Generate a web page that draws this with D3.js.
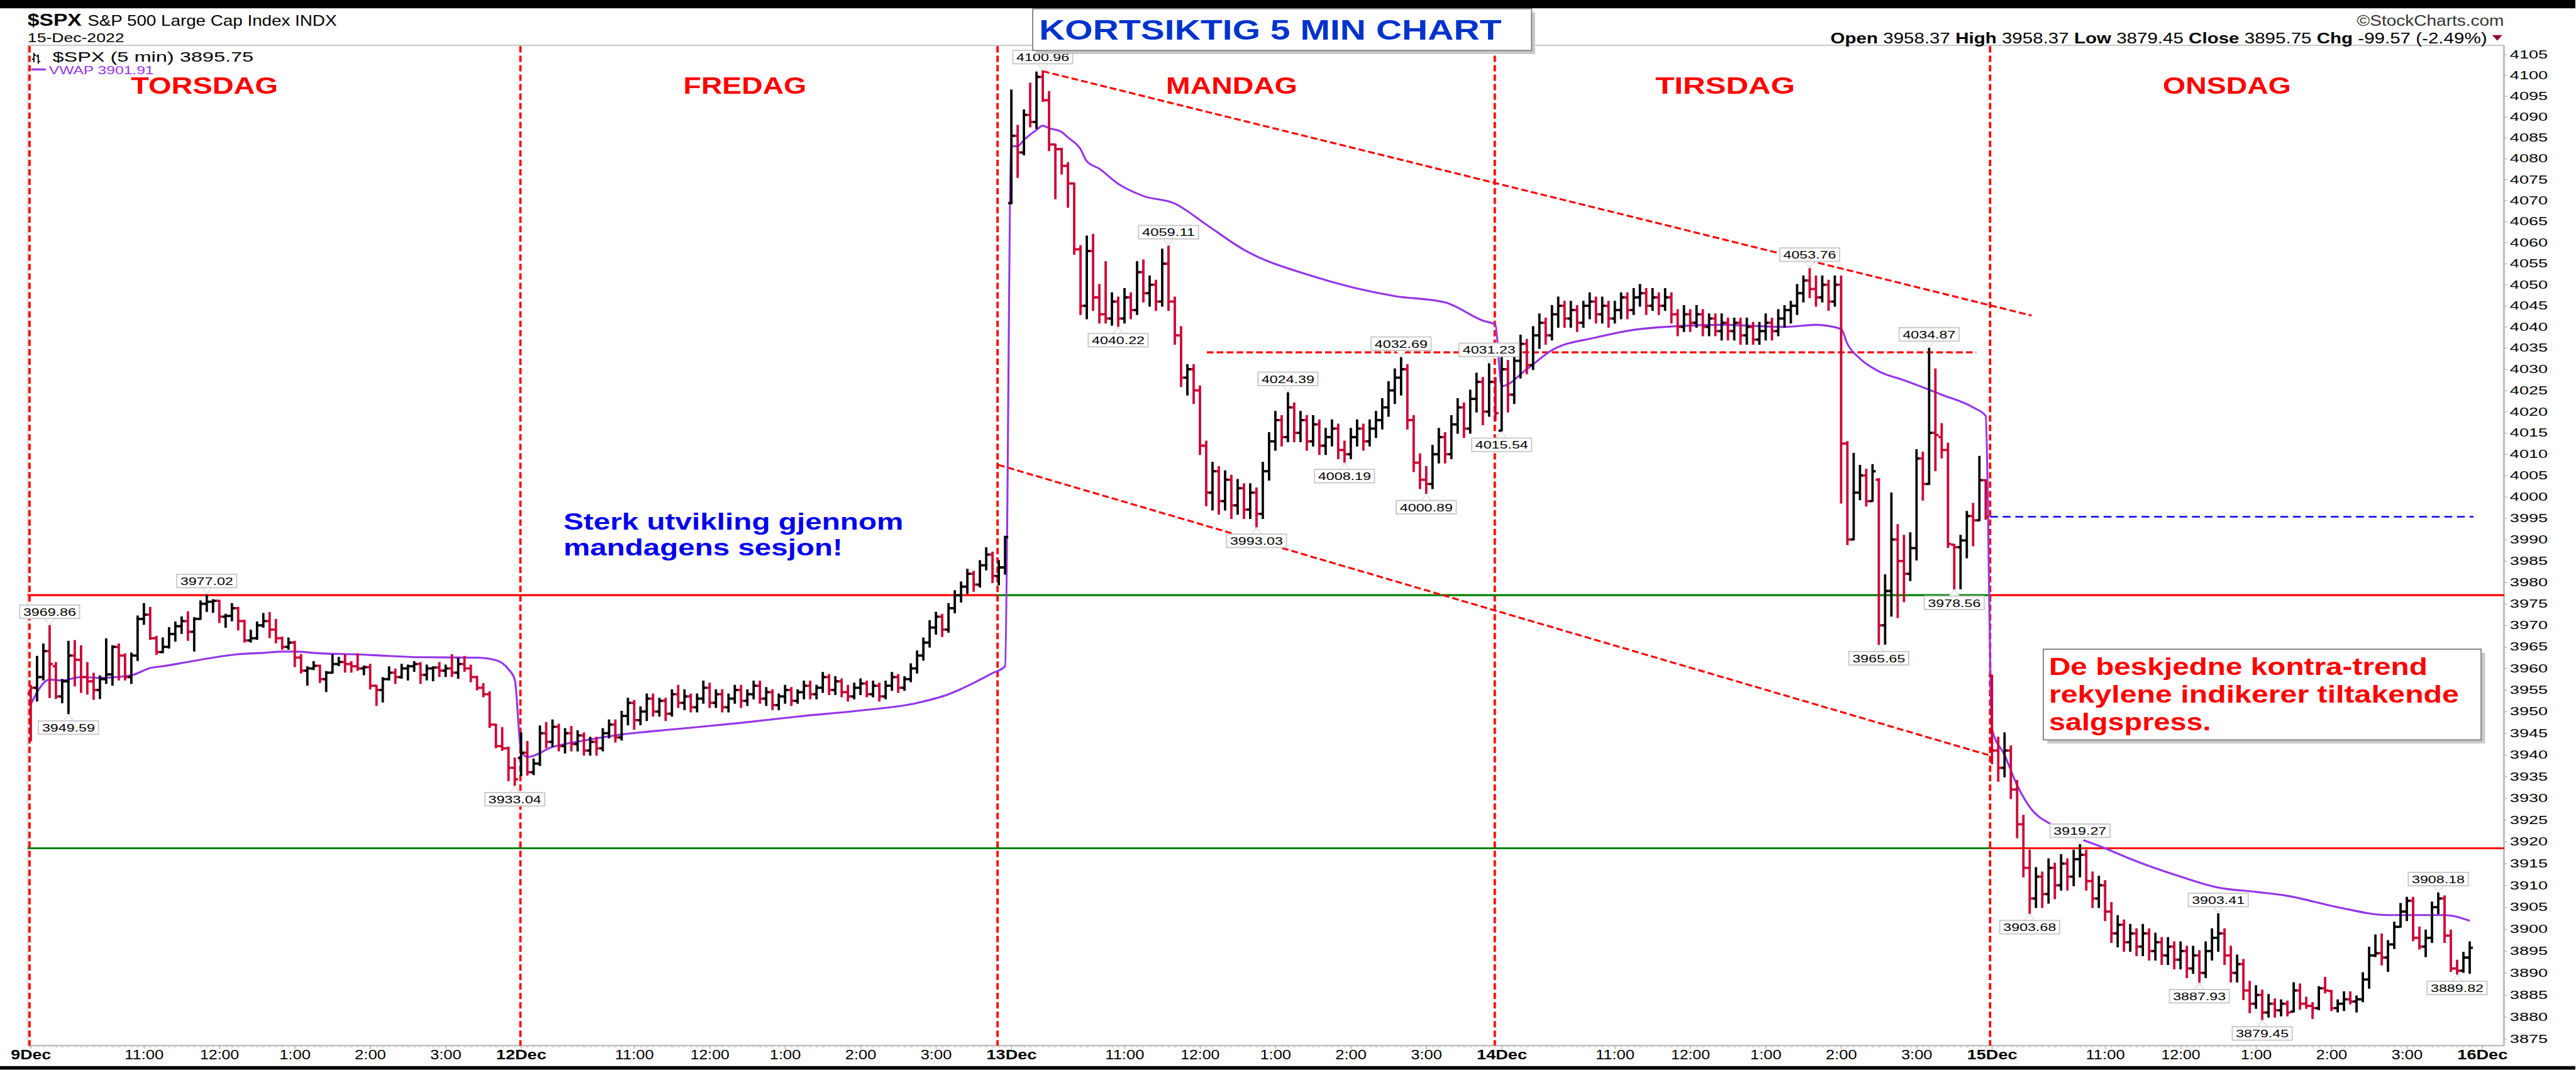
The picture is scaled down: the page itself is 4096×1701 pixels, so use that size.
<!DOCTYPE html>
<html>
<head>
<meta charset="utf-8">
<script src="https://cdnjs.cloudflare.com/ajax/libs/d3/7.8.5/d3.min.js"></script>
<style>
  body { margin: 0; background: #fff; }
  svg { display: block; }
  text { font-family: "Liberation Sans", Arial, sans-serif; }
</style>
</head>
<body>
<div id="chart"></div>
<script>
// ---- data: 5 minute OHLC bars, one array per session ----
var priorClose = 3963.51;

var thuBars = [
 [3954.2,3956.0,3943.3,3955.5],[3955.5,3962.7,3952.5,3958.0],[3958.0,3965.6,3957.4,3964.0],[3964.0,3969.86,3953.3,3961.0],
 [3960.5,3961.3,3953.1,3953.5],[3953.5,3957.4,3952.1,3957.0],[3957.0,3966.2,3949.59,3963.0],[3963.0,3966.4,3956.0,3962.0],
 [3962.0,3965.2,3954.5,3958.0],[3958.0,3961.3,3954.1,3957.0],[3957.0,3958.8,3952.9,3955.0],[3955.0,3958.2,3953.1,3957.5],
 [3957.5,3966.8,3956.6,3958.6],[3958.6,3965.2,3956.2,3965.0],[3965.0,3965.6,3957.4,3963.0],[3963.0,3963.3,3957.4,3958.0],
 [3958.0,3963.5,3956.6,3963.0],[3963.0,3972.1,3961.9,3971.5],[3971.5,3975.0,3970.3,3972.5],[3972.5,3974.1,3966.8,3967.0],
 [3967.0,3967.4,3963.3,3963.8],[3963.8,3967.0,3963.7,3965.0],[3965.0,3969.4,3964.8,3968.0],[3968.0,3970.7,3966.4,3969.8],
 [3969.8,3971.9,3968.2,3971.0],[3971.0,3973.1,3966.6,3968.5],[3968.5,3971.7,3964.1,3971.5],[3971.5,3975.6,3971.5,3975.0],
 [3975.0,3977.02,3973.3,3975.5],[3975.5,3975.9,3973.1,3975.7],[3975.7,3975.8,3970.7,3972.0],[3972.0,3972.5,3969.6,3972.2],
 [3972.2,3975.0,3971.1,3974.0],[3974.0,3974.1,3969.0,3971.0],[3971.0,3971.1,3966.2,3966.5],[3966.5,3968.8,3966.2,3967.0],
 [3967.0,3970.7,3966.8,3970.0],[3970.0,3972.7,3969.6,3971.0],[3971.0,3972.9,3967.2,3969.0],[3969.0,3971.3,3966.0,3967.0],
 [3967.0,3967.2,3964.5,3965.0],[3965.0,3967.0,3964.5,3966.0],[3966.0,3966.2,3960.5,3962.5],[3962.5,3963.1,3959.0,3959.5],
 [3959.5,3960.3,3956.2,3960.0],[3960.0,3961.5,3959.8,3960.6],[3960.6,3960.7,3956.8,3957.5],[3957.5,3959.2,3954.7,3959.0],
 [3959.0,3963.1,3959.0,3961.0],[3961.0,3962.5,3960.7,3961.5],[3961.5,3963.1,3959.2,3961.0],[3961.0,3961.5,3959.2,3960.5],
 [3960.5,3963.3,3959.6,3960.0],[3960.0,3960.5,3958.6,3960.3],[3960.3,3960.9,3955.3,3956.0],[3956.0,3956.0,3951.5,3955.0],
 [3955.0,3957.8,3952.3,3957.5],[3957.5,3960.3,3957.4,3959.0],[3959.0,3959.8,3956.6,3958.0],[3958.0,3960.9,3957.8,3960.0],
 [3960.0,3960.7,3957.4,3960.5],[3960.5,3961.5,3959.4,3961.0],[3961.0,3961.3,3956.6,3958.5],[3958.5,3960.7,3957.4,3960.0],
 [3960.0,3960.3,3957.2,3960.2],[3960.2,3961.3,3958.2,3959.5],[3959.5,3960.7,3958.2,3960.0],[3960.0,3963.1,3958.2,3959.0],
 [3959.0,3962.3,3957.8,3961.0],[3961.0,3962.7,3959.4,3960.0],[3960.0,3960.7,3957.0,3958.0],[3958.0,3958.1,3955.1,3955.5],
 [3955.5,3956.4,3953.5,3954.0],[3954.0,3954.5,3946.4,3947.0],[3947.0,3947.0,3941.7,3942.0],[3942.0,3946.2,3941.1,3941.5],
 [3941.5,3941.7,3934.1,3937.0],[3937.0,3939.2,3933.04,3934.38]
];

var friBars = [
 [3939.3,3945.0,3935.3,3940.5],[3940.5,3943.0,3935.4,3936.0],[3936.0,3939.0,3935.5,3938.0],[3938.0,3946.6,3937.6,3945.0],
 [3945.0,3947.4,3941.7,3943.0],[3943.0,3948.0,3942.0,3946.5],[3946.5,3947.0,3941.0,3942.0],[3942.0,3946.0,3940.5,3945.0],
 [3945.0,3946.5,3941.0,3942.5],[3942.5,3945.5,3941.0,3944.5],[3944.5,3945.0,3940.0,3941.0],[3941.0,3944.0,3940.0,3943.0],
 [3943.0,3944.0,3940.0,3941.5],[3941.5,3946.0,3941.0,3945.0],[3945.0,3948.0,3944.0,3947.0],[3947.0,3948.0,3943.0,3944.0],
 [3944.0,3950.0,3943.5,3949.0],[3949.0,3953.0,3947.0,3952.0],[3952.0,3952.5,3946.0,3948.0],[3948.0,3951.0,3947.0,3950.0],
 [3950.0,3954.0,3948.0,3953.0],[3953.0,3954.0,3949.0,3950.0],[3950.0,3953.0,3949.0,3952.5],[3952.5,3953.0,3948.0,3949.5],
 [3949.5,3955.0,3949.0,3954.0],[3954.0,3956.0,3951.0,3952.0],[3952.0,3955.0,3950.5,3953.5],[3953.5,3954.0,3950.0,3951.0],
 [3951.0,3954.0,3950.0,3953.0],[3953.0,3957.0,3952.0,3955.5],[3955.5,3956.5,3951.0,3952.0],[3952.0,3955.0,3951.0,3954.0],
 [3954.0,3955.0,3950.0,3951.0],[3951.0,3954.0,3950.0,3953.0],[3953.0,3956.0,3952.0,3955.0],[3955.0,3956.0,3951.0,3952.5],
 [3952.5,3955.0,3951.5,3954.0],[3954.0,3957.0,3953.0,3956.0],[3956.0,3957.0,3952.0,3953.0],[3953.0,3955.5,3951.5,3954.5],
 [3954.5,3955.0,3950.5,3951.5],[3951.5,3954.0,3950.5,3953.5],[3953.5,3956.0,3952.0,3955.0],[3955.0,3955.5,3951.5,3952.5],
 [3952.5,3955.0,3952.0,3954.5],[3954.5,3957.0,3953.0,3956.0],[3956.0,3957.0,3953.0,3954.0],[3954.0,3956.0,3953.0,3955.5],
 [3955.5,3959.0,3954.5,3958.0],[3958.0,3958.5,3954.0,3955.0],[3955.0,3958.0,3954.0,3957.0],[3957.0,3957.5,3953.5,3954.5],
 [3954.5,3956.0,3952.5,3953.5],[3953.5,3956.5,3953.0,3955.5],[3955.5,3957.5,3954.0,3956.5],[3956.5,3957.0,3953.5,3954.0],
 [3954.0,3957.0,3953.5,3956.0],[3956.0,3956.5,3952.5,3953.5],[3953.5,3957.0,3953.0,3956.0],[3956.0,3959.0,3955.0,3958.0],
 [3958.0,3958.5,3954.5,3955.5],[3955.5,3958.0,3955.0,3957.5],[3957.5,3961.0,3957.0,3960.0],[3960.0,3964.0,3959.0,3963.0],
 [3963.0,3967.0,3962.0,3966.0],[3966.0,3971.0,3965.0,3969.5],[3969.5,3973.0,3968.0,3972.0],[3972.0,3972.5,3967.5,3969.0],
 [3969.0,3975.0,3968.5,3974.0],[3974.0,3978.0,3973.0,3977.0],[3977.0,3980.0,3975.5,3979.0],[3979.0,3983.0,3977.5,3982.0],
 [3982.0,3982.5,3978.0,3979.5],[3979.5,3985.0,3979.0,3984.0],[3984.0,3988.0,3983.0,3986.5],[3986.5,3987.0,3980.0,3981.5],
 [3981.5,3985.0,3979.5,3983.5],[3983.5,3990.71,3982.0,3990.56]
];

var monBars = [
 [4069.4,4096.4,4069.3,4085.5],[4085.5,4087.9,4075.6,4081.5],[4081.5,4091.6,4081.0,4090.5],[4090.5,4098.0,4087.7,4088.8],
 [4088.8,4100.7,4087.3,4099.6],[4099.6,4100.96,4093.8,4094.0],[4094.0,4096.0,4082.0,4083.4],[4083.4,4083.4,4070.5,4082.3],
 [4082.3,4082.4,4076.4,4078.3],[4078.3,4079.0,4068.5,4074.1],[4074.1,4074.1,4057.3,4058.4],[4058.4,4059.2,4043.0,4045.0],
 [4045.0,4061.5,4042.0,4058.0],[4058.0,4061.9,4044.0,4047.0],[4047.0,4050.0,4041.0,4043.0],[4043.0,4055.4,4041.0,4042.0],
 [4042.0,4048.0,4040.5,4046.0],[4046.0,4047.0,4040.22,4042.0],[4042.0,4049.0,4041.0,4047.0],[4047.0,4048.0,4042.0,4044.0],
 [4044.0,4055.4,4043.0,4053.0],[4053.0,4055.8,4046.0,4048.0],[4048.0,4052.0,4045.0,4050.0],[4050.0,4051.0,4044.0,4046.0],
 [4046.0,4058.4,4045.0,4055.0],[4055.0,4059.11,4044.0,4046.0],[4046.0,4047.0,4036.0,4038.0],[4038.0,4040.0,4026.0,4028.0],
 [4028.0,4031.0,4024.0,4030.0],[4030.0,4031.0,4022.0,4025.0],[4025.0,4026.0,4010.0,4012.0],[4012.0,4013.0,3998.0,4001.0],
 [4001.0,4008.0,3997.0,4006.0],[4006.0,4007.0,3996.0,3999.0],[3999.0,4006.0,3997.0,4004.0],[4004.0,4005.0,3995.0,3998.0],
 [3998.0,4004.0,3996.0,4002.0],[4002.0,4003.0,3995.0,3997.0],[3997.0,4003.0,3995.0,4001.0],[4001.0,4002.0,3993.03,3996.0],
 [3996.0,4008.0,3995.0,4006.0],[4006.0,4015.0,4004.0,4013.0],[4013.0,4020.0,4011.0,4018.0],[4018.0,4019.0,4012.0,4014.0],
 [4014.0,4024.39,4013.0,4021.0],[4021.0,4022.0,4013.0,4015.0],[4015.0,4020.0,4013.0,4018.0],[4018.0,4019.0,4011.0,4013.0],
 [4013.0,4019.0,4012.0,4017.0],[4017.0,4018.0,4010.0,4012.0],[4012.0,4016.0,4010.0,4014.0],[4014.0,4018.0,4012.0,4016.0],
 [4016.0,4017.0,4009.0,4011.0],[4011.0,4013.0,4008.19,4010.0],[4010.0,4016.0,4009.0,4014.0],[4014.0,4018.0,4012.0,4016.0],
 [4016.0,4017.0,4011.0,4013.0],[4013.0,4018.0,4012.0,4016.0],[4016.0,4020.0,4014.0,4018.0],[4018.0,4023.0,4016.0,4021.0],
 [4021.0,4027.0,4019.0,4025.0],[4025.0,4030.0,4022.0,4028.0],[4028.0,4032.69,4024.0,4030.0],[4030.0,4031.0,4016.0,4018.0],
 [4018.0,4019.0,4006.0,4008.0],[4008.0,4010.0,4002.0,4004.0],[4004.0,4007.0,4000.89,4003.0],[4003.0,4012.0,4002.0,4010.0],
 [4010.0,4016.0,4008.0,4014.0],[4014.0,4015.0,4008.0,4010.0],[4010.0,4019.0,4009.0,4017.0],[4017.0,4023.0,4015.0,4021.0],
 [4021.0,4022.0,4014.0,4016.0],[4016.0,4025.0,4015.0,4023.0],[4023.0,4029.0,4020.0,4027.0],[4027.0,4028.0,4017.0,4020.0],
 [4020.0,4031.23,4019.0,4027.0],[4027.0,4028.0,4018.0,4019.65]
];

var tueBars = [
 [4015.54,4033.0,4015.54,4030.0],[4030.0,4032.0,4020.0,4024.0],[4024.0,4034.0,4022.0,4032.0],[4032.0,4038.0,4028.0,4036.0],
 [4036.0,4037.0,4029.0,4031.0],[4031.0,4040.0,4030.0,4038.0],[4038.0,4043.0,4035.0,4041.0],[4041.0,4042.0,4036.0,4038.0],
 [4038.0,4045.0,4037.0,4043.0],[4043.0,4047.0,4040.0,4045.0],[4045.0,4046.0,4040.0,4042.0],[4042.0,4046.0,4040.0,4044.0],
 [4044.0,4045.0,4039.0,4041.0],[4041.0,4046.0,4040.0,4045.0],[4045.0,4048.0,4042.0,4046.0],[4046.0,4047.0,4041.0,4043.0],
 [4043.0,4047.0,4041.0,4045.0],[4045.0,4046.0,4040.0,4042.0],[4042.0,4046.0,4041.0,4044.0],[4044.0,4048.0,4042.0,4047.0],
 [4047.0,4048.0,4042.0,4044.0],[4044.0,4049.0,4043.0,4047.0],[4047.0,4050.0,4045.0,4048.0],[4048.0,4049.0,4043.0,4045.0],
 [4045.0,4049.0,4044.0,4047.0],[4047.0,4048.0,4043.0,4045.0],[4045.0,4049.0,4044.0,4047.0],[4047.0,4048.0,4041.0,4043.0],
 [4043.0,4044.0,4038.0,4040.0],[4040.0,4045.0,4039.0,4043.0],[4043.0,4044.0,4039.0,4041.0],[4041.0,4045.0,4040.0,4043.0],
 [4043.0,4044.0,4038.0,4040.0],[4040.0,4043.0,4038.0,4042.0],[4042.0,4043.0,4038.0,4039.0],[4039.0,4043.0,4037.0,4041.0],
 [4041.0,4042.0,4037.0,4039.0],[4039.0,4042.0,4037.0,4041.0],[4041.0,4042.0,4036.0,4038.0],[4038.0,4042.0,4036.0,4040.0],
 [4040.0,4041.0,4036.0,4037.0],[4037.0,4041.0,4036.0,4039.0],[4039.0,4043.0,4037.0,4041.0],[4041.0,4042.0,4037.0,4039.0],
 [4039.0,4044.0,4038.0,4042.0],[4042.0,4045.0,4040.0,4044.0],[4044.0,4046.0,4041.0,4045.0],[4045.0,4050.0,4043.0,4048.0],
 [4048.0,4052.0,4046.0,4051.0],[4051.0,4053.76,4047.0,4049.0],[4049.0,4052.0,4045.0,4047.0],[4047.0,4052.0,4046.0,4050.0],
 [4050.0,4051.0,4044.0,4046.0],[4046.0,4052.0,4045.0,4050.0],[4050.0,4052.0,3998.6,4012.5],[4012.5,4012.9,3988.9,3990.0],
 [3990.0,4010.1,3990.0,4001.0],[4001.0,4007.3,3999.4,4005.0],[4005.0,4006.4,3997.9,3999.0],[3999.0,4007.5,3999.0,4006.0],
 [4004.0,4004.2,3965.65,3970.0],[3970.0,3981.7,3965.7,3978.0],[3978.0,4000.8,3972.2,3990.0],[3990.0,3993.4,3971.9,3985.0],
 [3985.0,3990.9,3975.6,3982.0],[3982.0,3991.5,3980.5,3988.0],[3988.0,4011.0,3985.3,4009.0],[4009.0,4010.4,3999.3,4003.0],
 [4003.0,4034.87,4003.0,4015.0],[4015.0,4030.0,4006.2,4014.5],[4014.0,4017.1,4009.2,4011.0],[4011.0,4012.5,3988.2,3989.0],
 [3988.8,3988.8,3978.56,3988.2],[3988.2,3990.9,3978.6,3989.8],[3989.8,3996.5,3985.8,3995.5],[3995.5,3998.4,3988.6,3994.5],
 [3994.5,4009.4,3994.5,4003.9],[4003.9,4003.9,3994.8,3995.32]
];

var wedBars = [
 [3958.37,3958.37,3938.0,3941.0],[3941.0,3944.0,3934.0,3937.0],[3937.0,3945.0,3935.0,3941.0],[3941.0,3942.0,3930.0,3932.0],
 [3932.0,3934.0,3921.0,3924.0],[3924.0,3926.0,3912.0,3914.0],[3914.0,3918.0,3903.68,3907.0],[3907.0,3914.0,3905.0,3912.0],
 [3912.0,3913.0,3905.0,3908.0],[3908.0,3916.0,3906.0,3914.0],[3914.0,3915.0,3907.0,3910.0],[3910.0,3917.0,3909.0,3915.0],
 [3915.0,3916.0,3909.0,3912.0],[3912.0,3918.0,3910.0,3916.0],[3916.0,3919.27,3912.0,3917.0],[3917.0,3918.0,3909.0,3911.0],
 [3911.0,3913.0,3905.0,3907.0],[3907.0,3912.0,3905.0,3910.0],[3910.0,3911.0,3902.0,3904.0],[3904.0,3906.0,3897.0,3899.0],
 [3899.0,3903.0,3896.0,3901.0],[3901.0,3902.0,3895.0,3897.0],[3897.0,3901.0,3895.0,3899.0],[3899.0,3900.0,3894.0,3896.0],
 [3896.0,3901.0,3894.0,3899.0],[3899.0,3900.0,3893.0,3895.0],[3895.0,3899.0,3893.0,3897.0],[3897.0,3898.0,3892.0,3894.0],
 [3894.0,3898.0,3892.0,3896.0],[3896.0,3897.0,3891.0,3893.0],[3893.0,3897.0,3891.0,3895.0],[3895.0,3896.0,3889.0,3891.0],
 [3891.0,3896.0,3890.0,3894.0],[3894.0,3895.0,3887.93,3890.0],[3890.0,3897.0,3889.0,3895.0],[3895.0,3900.0,3893.0,3898.0],
 [3898.0,3903.41,3895.0,3899.0],[3899.0,3900.0,3892.0,3894.0],[3894.0,3896.0,3888.0,3890.0],[3890.0,3894.0,3888.0,3892.0],
 [3892.0,3893.0,3884.0,3886.0],[3886.0,3888.0,3881.0,3883.0],[3883.0,3887.0,3882.0,3885.0],[3885.0,3886.0,3879.45,3881.0],
 [3881.0,3885.0,3880.0,3883.0],[3883.0,3884.0,3880.0,3881.5],[3881.5,3883.8,3880.3,3883.0],[3883.0,3883.5,3880.3,3881.0],
 [3881.2,3887.7,3881.2,3886.0],[3886.0,3887.4,3881.8,3883.0],[3883.0,3884.4,3882.0,3882.5],[3882.5,3883.2,3879.7,3882.0],
 [3882.0,3886.8,3881.7,3886.5],[3886.5,3888.9,3885.5,3886.0],[3885.9,3885.9,3881.5,3882.0],[3882.0,3883.8,3881.2,3883.0],
 [3883.0,3885.6,3881.5,3884.0],[3884.0,3885.6,3883.0,3883.5],[3883.5,3884.7,3881.2,3884.0],[3884.0,3890.0,3883.5,3888.5],
 [3888.5,3895.8,3886.6,3894.0],[3894.0,3898.6,3893.8,3894.5],[3894.5,3898.8,3891.9,3893.5],[3893.5,3897.3,3890.4,3896.5],
 [3896.5,3901.5,3895.6,3900.5],[3900.5,3905.8,3900.5,3904.0],[3904.0,3907.2,3902.0,3906.5],[3906.5,3907.2,3897.4,3898.0],
 [3898.0,3900.4,3895.5,3896.0],[3896.0,3899.7,3893.8,3898.0],[3898.0,3906.1,3897.0,3905.0],[3905.0,3908.18,3903.6,3907.0],
 [3907.0,3907.5,3897.0,3898.5],[3898.5,3899.7,3890.4,3891.0],[3891.0,3892.8,3889.82,3890.5],[3890.5,3894.6,3890.2,3893.5],
 [3893.5,3897.0,3890.0,3895.75]
];

// VWAP, read at selected bars: [bar in session, value]
var vwapThu = [[0,3951.7],[3,3957.4],[5,3957.2],[8,3958.0],[11,3957.8],[16,3958.4],[19,3960.1],[21,3960.5],[25,3961.5],
  [29,3962.5],[33,3963.3],[37,3963.6],[40,3963.9],[42,3963.9],[46,3963.5],[51,3963.3],[57,3962.9],[62,3962.6],[71,3962.5],
  [74,3961.9],[76,3959.8],[77,3957.4]];
var vwapFri = [[0,3941.0],[1,3939.5],[5,3941.8],[10,3943.3],[16,3944.7],[25,3946.0],[35,3947.4],[45,3949.0],[53,3950.1],
  [63,3952.0],[68,3954.0],[71,3955.9],[75,3958.9],[77,3960.5]];
var vwapMon = [[0,4083.0],[1,4083.0],[2,4084.5],[4,4086.9],[5,4087.9],[6,4087.3],[8,4086.4],[9,4085.1],[11,4082.3],
  [12,4079.4],[14,4077.6],[17,4074.0],[21,4071.1],[26,4069.3],[31,4064.3],[37,4058.3],[48,4052.0],[61,4047.3],[69,4045.8],
  [75,4041.5],[77,4040.5]];
var vwapTue = [[0,4026.0],[4,4030.0],[8,4034.5],[15,4037.5],[22,4039.5],[35,4040.5],[45,4040.0],[50,4040.5],[54,4039.5],
  [55,4036.0],[57,4032.5],[60,4029.5],[64,4027.4],[70,4024.0],[75,4021.0],[77,4019.0]];
var vwapWed = [[0,3946.0],[2,3940.0],[4,3933.0],[6,3928.0],[10,3923.5],[18,3918.5],[23,3915.5],[30,3912.0],[36,3909.5],
  [42,3908.5],[47,3907.6],[55,3905.0],[63,3903.2],[72,3903.2],[76,3901.9]];

// high / low callouts: [session, bar, value, side]
var priceLabels = [
  [0,3,3969.86,"h"],[0,6,3949.59,"l"],[0,28,3977.02,"h"],[0,77,3933.04,"l"],
  [2,5,4100.96,"h"],[2,17,4040.22,"l"],[2,25,4059.11,"h"],[2,39,3993.03,"l"],[2,44,4024.39,"h"],
  [2,53,4008.19,"l"],[2,62,4032.69,"h"],[2,66,4000.89,"l"],[2,76,4031.23,"h"],
  [3,0,4015.54,"l"],[3,49,4053.76,"h"],[3,60,3965.65,"l"],[3,68,4034.87,"h"],[3,72,3978.56,"l"],
  [4,6,3903.68,"l"],[4,14,3919.27,"h"],[4,33,3887.93,"l"],[4,36,3903.41,"h"],[4,43,3879.45,"l"],
  [4,71,3908.18,"h"],[4,74,3889.82,"l"]
];

// axis labels
var dayLabels = ["9Dec", "12Dec", "13Dec", "14Dec", "15Dec", "16Dec"];
var hourLabels = ["11:00", "12:00", "1:00", "2:00", "3:00"];
var hourBars = [18, 30, 42, 54, 66];
var yTicks = [3875,3880,3885,3890,3895,3900,3905,3910,3915,3920,3925,3930,3935,3940,3945,3950,3955,3960,3965,
  3970,3975,3980,3985,3990,3995,4000,4005,4010,4015,4020,4025,4030,4035,4040,4045,4050,4055,4060,4065,4070,
  4075,4080,4085,4090,4095,4100,4105];

// drawn annotations (in bar / price units)
var sessionDividers = [-0.2, 77.9, 153.8, 232.9, 311.7];
var levelLines = [
  [3977.02, -0.5, 153.8, "#ff0000"], [3977.02, 153.8, 311.7, "#008000"], [3977.02, 311.7, 393.5, "#ff0000"],
  [3918.5, -0.5, 311.7, "#008000"], [3918.5, 311.7, 393.5, "#ff0000"]
];
var trendLines = [
  [161, 4100.96, 318.3, 4042.7],
  [153.9, 4007.5, 311.8, 3939.8],
  [187.1, 4034.0, 309.5, 4034.0]
];
var prevCloseLine = [3995.32, 311.7, 388.6];

// ---- set up ----
var svg = d3.select("#chart").append("svg")
  .attr("width", 4096)
  .attr("height", 1701);

var root = svg.append("g").attr("transform", "scale(0.627)");

var plot = {left: 70, right: 6350, top: 115, bottom: 2651};

var x = d3.scaleLinear().domain([0, 390]).range([78, 6295]);
var y = d3.scaleLog().domain([3875, 4105]).range([2634, 138]);

root.append("rect").attr("width", 6531).attr("height", 2712).attr("fill", "#fff");
root.append("rect").attr("width", 6531).attr("height", 21).attr("fill", "#000");
root.append("rect").attr("y", 2703).attr("width", 6531).attr("height", 9).attr("fill", "#000");

// frame
root.append("line").attr("x1", plot.left).attr("x2", plot.right).attr("y1", plot.top).attr("y2", plot.top)
  .attr("stroke", "#c0c0c0").attr("stroke-width", 3);
root.append("line").attr("x1", plot.left).attr("x2", plot.left).attr("y1", plot.top).attr("y2", plot.bottom)
  .attr("stroke", "#c8c8c8").attr("stroke-width", 2);

// ---- axes ----
var yAxis = d3.axisRight(y).tickValues(yTicks).tickFormat(d3.format("d")).tickSize(8).tickPadding(7);
var yg = root.append("g").attr("transform", `translate(${plot.right},0)`).call(yAxis);
yg.select(".domain").attr("stroke", "#c0c0c0").attr("stroke-width", 5).attr("d", `M0,${plot.top}V${plot.bottom}`);
yg.selectAll(".tick line").attr("stroke", "#b0b0b0").attr("stroke-width", 2);
yg.selectAll(".tick text")
  .attr("font-size", 29).attr("font-family", "Liberation Sans, Arial, sans-serif").attr("fill", "#000")
  .attr("textLength", 96).attr("lengthAdjust", "spacingAndGlyphs");

var xTickVals = [], xTickText = {};
dayLabels.forEach(function(lab, d) {
  xTickVals.push(d * 78); xTickText[d * 78] = lab;
  if (d < 5) hourBars.forEach(function(b, k) { xTickVals.push(d * 78 + b); xTickText[d * 78 + b] = hourLabels[k]; });
});

var minorAxis = d3.axisBottom(x).tickValues(d3.range(0, 391)).tickFormat("").tickSize(6);
var mg = root.append("g").attr("transform", `translate(0,${plot.bottom})`).call(minorAxis);
mg.select(".domain").remove();
mg.selectAll(".tick line").attr("stroke", "#b8b8b8").attr("stroke-width", 1.5);

var xAxis = d3.axisBottom(x).tickValues(xTickVals).tickFormat(function(v) { return xTickText[v]; })
  .tickSize(9).tickPadding(2);
var xg = root.append("g").attr("transform", `translate(0,${plot.bottom})`).call(xAxis);
xg.select(".domain").attr("stroke", "#c0c0c0").attr("stroke-width", 4).attr("d", `M${plot.left},0H${plot.right}`);
xg.selectAll(".tick line").attr("stroke", "#a8a8a8").attr("stroke-width", 2);
xg.selectAll(".tick text")
  .attr("font-size", 34).attr("font-family", "Liberation Sans, Arial, sans-serif").attr("fill", "#000")
  .attr("font-weight", function(v) { return v % 78 === 0 ? "bold" : "normal"; })
  .attr("textLength", function(v) { var t = xTickText[v]; return v % 78 === 0 ? t.length * 25.5 : t.length * 19.8; })
  .attr("lengthAdjust", "spacingAndGlyphs");

// ---- annotation lines under the bars ----
root.selectAll(".divider").data(sessionDividers).enter().append("line")
  .attr("class", "divider")
  .attr("x1", d => x(d)).attr("x2", d => x(d))
  .attr("y1", plot.top + 2).attr("y2", plot.bottom)
  .attr("stroke", "#ff0000").attr("stroke-width", 6).attr("stroke-dasharray", "16,8");

root.selectAll(".level").data(levelLines).enter().append("line")
  .attr("class", "level")
  .attr("x1", d => x(d[1])).attr("x2", d => x(d[2]))
  .attr("y1", d => y(d[0])).attr("y2", d => y(d[0]))
  .attr("stroke", d => d[3]).attr("stroke-width", 5);

root.append("line")
  .attr("x1", x(prevCloseLine[1])).attr("x2", x(prevCloseLine[2]))
  .attr("y1", y(prevCloseLine[0])).attr("y2", y(prevCloseLine[0]))
  .attr("stroke", "#0000ff").attr("stroke-width", 4).attr("stroke-dasharray", "20,12");

root.selectAll(".trend").data(trendLines).enter().append("line")
  .attr("class", "trend")
  .attr("x1", d => x(d[0])).attr("y1", d => y(d[1]))
  .attr("x2", d => x(d[2])).attr("y2", d => y(d[3]))
  .attr("stroke", "#ff0000").attr("stroke-width", 5).attr("stroke-dasharray", "17,8");

// ---- VWAP ----
var vwapPts = [];
[vwapThu, vwapFri, vwapMon, vwapTue, vwapWed].forEach(function(arr, d) {
  arr.forEach(function(p) { vwapPts.push([d * 78 + p[0], p[1]]); });
});
var vwapLine = d3.line().x(d => x(d[0])).y(d => y(d[1])).curve(d3.curveMonotoneX);
root.append("path").datum(vwapPts)
  .attr("d", vwapLine)
  .attr("fill", "none").attr("stroke", "#9535e8").attr("stroke-width", 5);

// ---- OHLC bars ----
var bars = [];
var lastClose = priorClose;
[thuBars, friBars, monBars, tueBars, wedBars].forEach(function(arr, d) {
  arr.forEach(function(b, i) {
    bars.push({g: d * 78 + i, o: b[0], h: b[1], l: b[2], c: b[3], up: b[3] >= lastClose});
    lastClose = b[3];
  });
});

root.append("g").selectAll("path").data(bars).enter().append("path")
  .attr("d", function(d) {
    var cx = x(d.g);
    return `M${cx},${y(d.h) - 2}V${y(d.l) + 2}M${cx - 8},${y(d.o)}H${cx}M${cx},${y(d.c)}H${cx + 8}`;
  })
  .attr("fill", "none")
  .attr("stroke", d => d.up ? "#000" : "#cc0033")
  .attr("stroke-width", 6);

// ---- high / low callouts ----
var callouts = root.append("g").selectAll("g").data(priceLabels).enter().append("g")
  .attr("transform", function(d) { return `translate(${x(d[0] * 78 + d[1])},${y(d[2])})`; });

callouts.append("path")
  .attr("d", function(d) { return d[3] === "h" ? "M-14,-20L0,-3L14,-20" : "M-14,20L0,3L14,20"; })
  .attr("fill", "#fff").attr("stroke", "#d6d6d6").attr("stroke-width", 2);
callouts.append("rect")
  .attr("x", -76).attr("y", d => d[3] === "h" ? -53 : 19)
  .attr("width", 152).attr("height", 34)
  .attr("fill", "#fff").attr("stroke", "#c8c8c8").attr("stroke-width", 3);
callouts.append("text")
  .attr("x", 0).attr("y", d => d[3] === "h" ? -26 : 46)
  .attr("text-anchor", "middle").attr("font-size", 27).attr("fill", "#000")
  .attr("textLength", 134).attr("lengthAdjust", "spacingAndGlyphs")
  .text(d => d[2].toFixed(2));

// ---- header ----
root.append("text").attr("x", 70).attr("y", 65).attr("font-size", 44).attr("font-weight", "bold")
  .attr("textLength", 137).attr("lengthAdjust", "spacingAndGlyphs").text("$SPX");
root.append("text").attr("x", 222).attr("y", 65).attr("font-size", 37)
  .attr("textLength", 632).attr("lengthAdjust", "spacingAndGlyphs").text("S&P 500 Large Cap Index  INDX");
root.append("text").attr("x", 70).attr("y", 107).attr("font-size", 31)
  .attr("textLength", 245).attr("lengthAdjust", "spacingAndGlyphs").text("15-Dec-2022");

root.append("text").attr("x", 6350).attr("y", 65).attr("font-size", 38).attr("fill", "#333")
  .attr("text-anchor", "end").attr("textLength", 373).attr("lengthAdjust", "spacingAndGlyphs")
  .text("\u00a9StockCharts.com");

var info = root.append("text").attr("x", 4642).attr("y", 110).attr("font-size", 38)
  .attr("textLength", 1665).attr("lengthAdjust", "spacingAndGlyphs");
[["Open", true], [" 3958.37  ", false], ["High", true], [" 3958.37  ", false], ["Low", true], [" 3879.45  ", false],
 ["Close", true], [" 3895.75  ", false], ["Chg", true], [" -99.57 (-2.49%)", false]].forEach(function(p) {
  info.append("tspan").attr("font-weight", p[1] ? "bold" : "normal").text(p[0]);
});
root.append("path").attr("d", "M6320,89H6346L6333,103Z").attr("fill", "#8b0a2a");

// legend
var icon = root.append("g").attr("stroke", "#000").attr("stroke-width", 3).attr("fill", "none");
icon.append("path").attr("d", "M86,134V158M81,150H86M86,140H91");
icon.append("path").attr("d", "M97,138V162M92,142H97M97,156H102");
root.append("text").attr("x", 133).attr("y", 157).attr("font-size", 35)
  .attr("textLength", 510).attr("lengthAdjust", "spacingAndGlyphs").text("$SPX (5 min) 3895.75");
root.append("line").attr("x1", 79).attr("x2", 116).attr("y1", 176).attr("y2", 176)
  .attr("stroke", "#9535e8").attr("stroke-width", 5);
root.append("text").attr("x", 124).attr("y", 188).attr("font-size", 28).attr("fill", "#9535e8")
  .attr("textLength", 266).attr("lengthAdjust", "spacingAndGlyphs").text("VWAP 3901.91");

// ---- text annotations ----
var dayNotes = [["TORSDAG", 332, 373], ["FREDAG", 1733, 312], ["MANDAG", 2957, 333], ["TIRSDAG", 4198, 354], ["ONSDAG", 5485, 325]];
root.selectAll(".daynote").data(dayNotes).enter().append("text")
  .attr("class", "daynote")
  .attr("x", d => d[1]).attr("y", 238)
  .attr("font-size", 58).attr("font-weight", "bold").attr("fill", "#ff0000")
  .attr("textLength", d => d[2]).attr("lengthAdjust", "spacingAndGlyphs")
  .text(d => d[0]);

// title box
root.append("rect").attr("x", 2628).attr("y", 31).attr("width", 1265).attr("height", 106).attr("fill", "#c8c8c8");
root.append("rect").attr("x", 2619).attr("y", 22).attr("width", 1265).attr("height", 106)
  .attr("fill", "#fff").attr("stroke", "#808080").attr("stroke-width", 3);
root.append("text").attr("x", 2635).attr("y", 100).attr("font-size", 72).attr("font-weight", "bold")
  .attr("fill", "#0033cc").attr("textLength", 1173).attr("lengthAdjust", "spacingAndGlyphs")
  .text("KORTSIKTIG 5 MIN CHART");

// blue note
var blueNote = [["Sterk utvikling gjennom", 1343, 862], ["mandagens sesjon!", 1408, 708]];
root.selectAll(".bluenote").data(blueNote).enter().append("text")
  .attr("class", "bluenote")
  .attr("x", 1429).attr("y", d => d[1])
  .attr("font-size", 58).attr("font-weight", "bold").attr("fill", "#0000ee")
  .attr("textLength", d => d[2]).attr("lengthAdjust", "spacingAndGlyphs")
  .text(d => d[0]);

// red note box
root.append("rect").attr("x", 5192).attr("y", 1655).attr("width", 1110).attr("height", 230).attr("fill", "#c8c8c8");
root.append("rect").attr("x", 5182).attr("y", 1646).attr("width", 1110).attr("height", 230)
  .attr("fill", "#fff").attr("stroke", "#808080").attr("stroke-width", 3);
var redNote = [["De beskjedne kontra-trend", 1712, 960], ["rekylene indikerer tiltakende", 1781, 1040], ["salgspress.", 1851, 411]];
root.selectAll(".rednote").data(redNote).enter().append("text")
  .attr("class", "rednote")
  .attr("x", 5196).attr("y", d => d[1])
  .attr("font-size", 62).attr("font-weight", "bold").attr("fill", "#ff0000")
  .attr("textLength", d => d[2]).attr("lengthAdjust", "spacingAndGlyphs")
  .text(d => d[0]);
</script>
</body>
</html>
